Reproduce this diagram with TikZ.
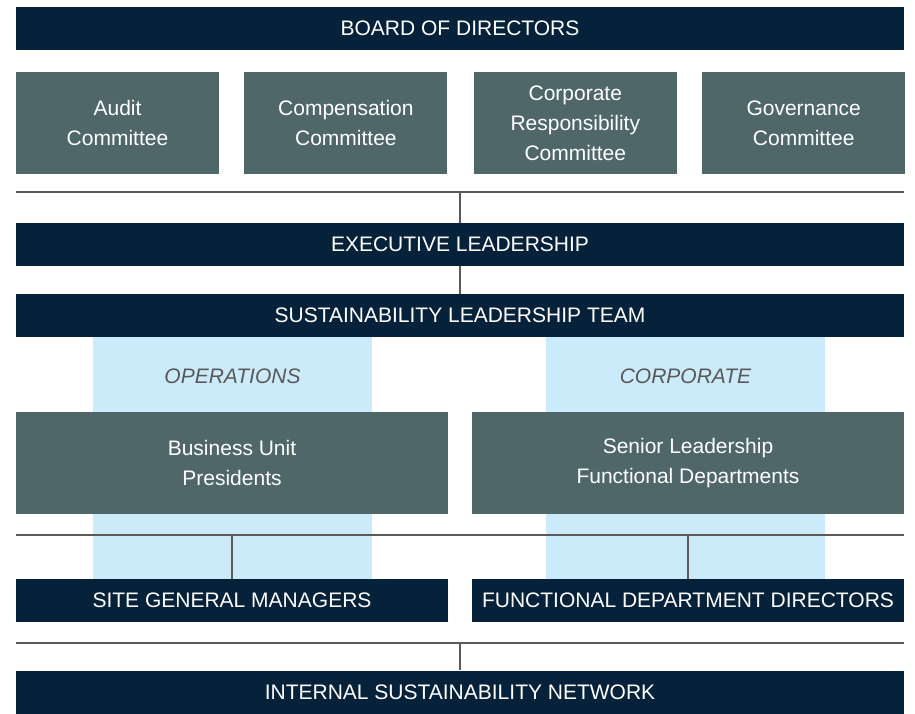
\documentclass[tikz,border=0pt]{standalone}
\usepackage{fontspec}
\setmainfont{Liberation Sans}
\usetikzlibrary{positioning}
\definecolor{navy}{HTML}{05223A}
\definecolor{slate}{HTML}{4F6769}
\definecolor{skyband}{HTML}{CCEBFA}
\definecolor{rulegray}{HTML}{5C5A57}
\definecolor{labelgray}{HTML}{595959}
\tikzset{
    x=1pt, y=-1pt, % one unit is one pixel of the reference
    bar/.style={rectangle, fill=navy, text=white, inner sep=0pt, minimum height=43pt, font=\fontsize{21}{30}\selectfont}, % dark banners
    unit/.style={rectangle, fill=slate, text=white, inner sep=0pt, align=center, minimum height=102pt, font=\fontsize{21}{30}\selectfont}, % grey-green boxes
    band/.style={rectangle, fill=skyband, inner sep=0pt, minimum width=279pt, minimum height=242pt}, % light blue columns
    tag/.style={text=labelgray, font=\fontsize{21}{30}\selectfont\itshape}, % column titles
    link/.style={draw=rulegray, line width=2pt}, % connecting rules
}
\begin{document}
\begin{tikzpicture}
    \useasboundingbox (0,0) rectangle (915,713);
    % light blue columns behind everything
    \node[band] (opsband) at (232.5,458) {};
    \node[band] (corpband) at (685.5,458) {};
    \node[tag] (ops) at (232.5,376) {OPERATIONS};
    \node[tag] (corp) at (685.5,376) {CORPORATE};
    % board and committees
    \node[bar, minimum width=888pt] (board) at (460,28.5) {BOARD OF DIRECTORS};
    \node[unit, minimum width=203pt] (audit) at (117.5,123) {Audit\\Committee};
    \node[unit, minimum width=203pt, right=25pt of audit] (comp) {Compensation\\Committee};
    \node[unit, minimum width=203pt, right=26pt of comp] (resp) {Corporate\\Responsibility\\Committee};
    \node[unit, minimum width=203pt, right=25pt of resp] (gov) {Governance\\Committee};
    % leadership
    \node[bar, minimum width=888pt] (exec) at (460,244.5) {EXECUTIVE LEADERSHIP};
    \node[bar, minimum width=888pt] (slt) at (460,315.5) {SUSTAINABILITY LEADERSHIP TEAM};
    \node[unit, minimum width=432pt] (bup) at (232,463) {Business Unit\\Presidents};
    \node[unit, minimum width=432pt] (sen) at (688,463) {Senior Leadership\\Functional Departments};
    \node[bar, minimum width=432pt] (sgm) at (232,600.5) {SITE GENERAL MANAGERS};
    \node[bar, minimum width=432pt] (fdd) at (688,600.5) {FUNCTIONAL DEPARTMENT DIRECTORS};
    \node[bar, minimum width=888pt] (isn) at (460,692) {INTERNAL SUSTAINABILITY NETWORK};
    % rules and links
    \coordinate (topw) at (16,192);
    \coordinate (tope) at (904,192);
    \coordinate (midw) at (16,535);
    \coordinate (mide) at (904,535);
    \coordinate (loww) at (16,643);
    \coordinate (lowe) at (904,643);
    \draw[link] (topw) -- (tope);
    \draw[link] (exec.north |- topw) -- (exec.north);
    \draw[link] (exec.south) -- (slt.north);
    \draw[link] (midw) -- (mide);
    \draw[link] (sgm.north |- midw) -- (sgm.north);
    \draw[link] (fdd.north |- midw) -- (fdd.north);
    \draw[link] (loww) -- (lowe);
    \draw[link] (isn.north |- loww) -- (isn.north);
\end{tikzpicture}
\end{document}
